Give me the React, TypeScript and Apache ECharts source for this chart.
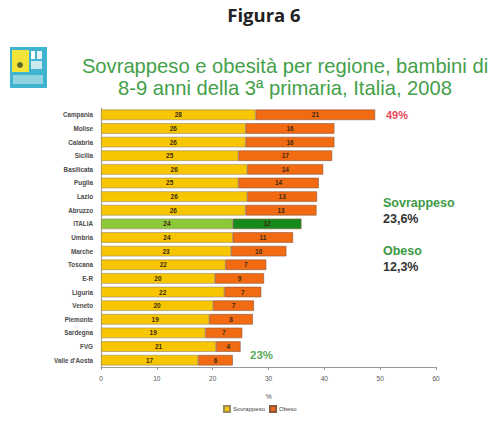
import React, { useEffect, useRef } from "react";
import * as echarts from "echarts";

const regions = [
  "Campania", "Molise", "Calabria", "Sicilia", "Basilicata", "Puglia", "Lazio", "Abruzzo",
  "ITALIA", "Umbria", "Marche", "Toscana", "E-R", "Liguria", "Veneto", "Piemonte",
  "Sardegna", "FVG", "Valle d'Aosta",
];
const sovrappeso = [27.7, 25.9, 25.9, 24.6, 26.2, 24.6, 26.2, 25.9, 23.6, 23.6, 23.3, 22.3, 20.4, 22.1, 20.1, 19.4, 18.7, 20.6, 17.4];
const obeso = [21.4, 15.9, 15.9, 16.8, 13.6, 14.4, 12.5, 12.7, 12.3, 10.8, 9.9, 7.3, 8.8, 6.6, 7.3, 7.8, 6.6, 4.4, 6.2];
const xTicks = [0, 10, 20, 30, 40, 50, 60];

const YELLOW = "#F8C600";
const ORANGE = "#F26A12";
const LGREEN = "#8CC83A";
const DGREEN = "#17891A";

export default function App() {
  const ref = useRef<HTMLDivElement>(null);
  useEffect(() => {
    if (!ref.current) return;
    const chart = echarts.init(ref.current, null, { renderer: "svg" });
    const lbl = {
      show: true,
      position: "inside",
      fontSize: 6.5,
      fontWeight: "bold",
      color: "#3a2a10",
      fontFamily: "Liberation Sans",
      formatter: (p: any) => String(Math.round(p.value)),
    };
    chart.setOption({
      animation: false,
      backgroundColor: "#ffffff",
      grid: { left: 101, right: 57, top: 108, bottom: 54 },
      xAxis: {
        type: "value",
        min: xTicks[0],
        max: xTicks[xTicks.length - 1],
        interval: 10,
        name: "%",
        nameLocation: "middle",
        nameGap: 26,
        nameTextStyle: { fontSize: 7, color: "#555", fontFamily: "Liberation Sans" },
        axisLine: { show: true, lineStyle: { color: "#999" } },
        axisTick: { show: true, length: 3, lineStyle: { color: "#999" } },
        axisLabel: { fontSize: 6.5, color: "#555", fontFamily: "Liberation Sans", margin: 8 },
        splitLine: { show: false },
      },
      yAxis: {
        type: "category",
        data: regions,
        inverse: true,
        axisLine: { show: true, lineStyle: { color: "#999" } },
        axisTick: { show: false },
        axisLabel: { fontSize: 6.3, color: "#4a4a4a", fontWeight: "bold", fontFamily: "Liberation Sans", margin: 8 },
      },
      legend: {
        bottom: 3,
        left: 218,
        itemWidth: 6,
        itemHeight: 6,
        itemGap: 4,
        textStyle: { fontSize: 6, color: "#444", fontFamily: "Liberation Sans", padding: [0, 0, 0, -2] },
        data: [
          { name: "Sovrappeso", icon: "rect", itemStyle: { color: YELLOW } },
          { name: "Obeso", icon: "rect", itemStyle: { color: ORANGE } },
        ],
      },
      series: [
        {
          name: "Sovrappeso",
          type: "bar",
          stack: "tot",
          barWidth: 10.5,
          itemStyle: { color: YELLOW, borderColor: "#9a8a60", borderWidth: 0.6 },
          label: lbl,
          data: sovrappeso.map((v, i) =>
            regions[i] === "ITALIA" ? { value: v, itemStyle: { color: LGREEN } } : v
          ),
        },
        {
          name: "Obeso",
          type: "bar",
          stack: "tot",
          barWidth: 10.5,
          itemStyle: { color: ORANGE, borderColor: "#8a5a40", borderWidth: 0.6 },
          label: lbl,
          data: obeso.map((v, i) =>
            regions[i] === "ITALIA" ? { value: v, itemStyle: { color: DGREEN } } : v
          ),
        },
      ],
      graphic: [
        {
          type: "text",
          x: 264,
          y: 5,
          style: { text: "Figura 6", fontSize: 18.5, fontWeight: "bold", fill: "#222", fontFamily: "Open Sans", align: "center" },
        },
        {
          type: "text",
          x: 285,
          y: 55,
          style: {
            text: "Sovrappeso e obesità per regione, bambini di\n8-9 anni della 3ª primaria, Italia, 2008",
            fontSize: 20.2,
            lineHeight: 22,
            fill: "#44a04a",
            align: "center",
            fontFamily: "Liberation Sans",
          },
        },
        {
          type: "group",
          x: 10,
          y: 47,
          children: [
            { type: "rect", shape: { x: 0, y: 0, width: 37, height: 41 }, style: { fill: "#3fb3cf" } },
            { type: "rect", shape: { x: 2, y: 3, width: 17, height: 22 }, style: { fill: "#f3e43a" } },
            { type: "circle", shape: { cx: 10, cy: 18, r: 3 }, style: { fill: "#5a6a2a" } },
            { type: "rect", shape: { x: 21, y: 4, width: 4, height: 8 }, style: { fill: "#ffffff" } },
            { type: "rect", shape: { x: 27, y: 4, width: 5, height: 8 }, style: { fill: "#e8f4f8" } },
            { type: "rect", shape: { x: 21, y: 14, width: 11, height: 8 }, style: { fill: "#cde9f0" } },
            { type: "rect", shape: { x: 3, y: 28, width: 30, height: 9 }, style: { fill: "#8fd3e0" } },
          ],
        },
        {
          type: "text",
          x: 386,
          y: 109,
          style: { text: "49%", fontSize: 11, fontWeight: "bold", fill: "#e8475a", fontFamily: "Liberation Sans" },
        },
        {
          type: "text",
          x: 250,
          y: 349,
          style: { text: "23%", fontSize: 11.5, fontWeight: "bold", fill: "#5aa85a", fontFamily: "Liberation Sans" },
        },
        {
          type: "text",
          x: 383,
          y: 196,
          style: { text: "Sovrappeso", fontSize: 12.5, fontWeight: "bold", fill: "#3c9a44", fontFamily: "Liberation Sans" },
        },
        {
          type: "text",
          x: 383,
          y: 212,
          style: { text: "23,6%", fontSize: 12.5, fontWeight: "bold", fill: "#333", fontFamily: "Liberation Sans" },
        },
        {
          type: "text",
          x: 383,
          y: 244,
          style: { text: "Obeso", fontSize: 12.5, fontWeight: "bold", fill: "#3c9a44", fontFamily: "Liberation Sans" },
        },
        {
          type: "text",
          x: 383,
          y: 260,
          style: { text: "12,3%", fontSize: 12.5, fontWeight: "bold", fill: "#333", fontFamily: "Liberation Sans" },
        },
      ],
    });
    return () => chart.dispose();
  }, []);
  return <div ref={ref} style={{ position: "absolute", left: 0, top: 0, width: 493, height: 421 }} />;
}
